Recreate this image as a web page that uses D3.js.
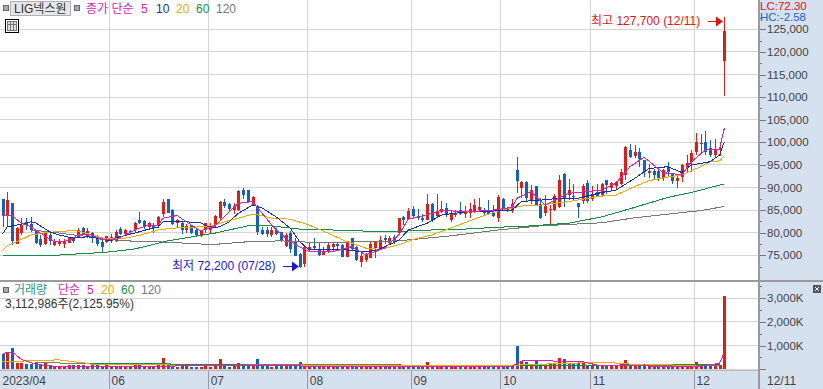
<!DOCTYPE html>
<html><head><meta charset="utf-8">
<script src="https://cdn.jsdelivr.net/npm/d3@7"></script>
<style>html,body{margin:0;padding:0;background:#fff;overflow:hidden}svg{display:block}
text{font-family:"Liberation Sans","Noto Sans CJK KR",sans-serif}</style></head><body>
<script>
const open=[87500,83800,86600,77600,79900,82400,81900,80600,78600,77400,
79500,77300,77600,77600,77800,78900,79100,81000,79100,79900,
79300,78000,77900,79100,78200,80900,79700,80400,80600,82800,
82600,81200,81700,81600,84100,87500,85000,82100,82100,80600,
81600,80700,79500,80500,80600,81700,83200,86900,86300,85000,
85000,89400,89400,86100,85900,80700,80500,79500,80700,80100,
77100,79900,78000,75300,73000,76200,77100,76300,75100,75800,
76800,77500,77300,74700,78800,76800,73600,74000,74500,76700,
76500,78900,77800,79100,79900,83400,83000,85200,83700,83300,
82800,86300,83700,84600,85400,82800,84000,85000,84100,84400,
84500,85000,84800,84900,84300,83200,87500,85400,84700,93900,
89800,91300,87100,90300,86300,84400,85000,85000,85600,93000,
88300,88200,86500,87100,91100,87400,89000,88300,91700,89800,
90400,90800,92800,98300,97000,97800,96100,93100,93700,93700,
92200,94600,93000,91500,92400,94500,95700,97900,99800,100100,
98700,97300,98300,118000];
const high=[87500,89100,86600,81300,83200,83300,83400,80700,79500,80200,
80400,78600,78600,78600,79100,79100,81000,81200,81000,80200,
79500,78500,79300,79700,80700,81200,80800,80700,82400,84600,
82800,82400,82100,83800,87500,87500,85200,83000,82300,81900,
81700,81000,80700,82200,82100,83900,87100,87400,86600,86500,
89400,89800,89500,88100,86100,81200,81200,81200,81000,80200,
79900,80400,78800,75400,77100,78000,78800,78000,76800,77800,
78000,78000,77600,78200,78900,77100,75400,75400,78200,78200,
79300,79400,79300,79500,83300,83700,85400,85900,85200,84100,
88600,86600,88600,87100,86500,84900,85000,86700,85900,86500,
87500,87600,85400,87200,86100,88300,87600,85600,87400,96700,
91500,91500,90600,90300,87600,88300,86100,88600,92800,93300,
91800,90800,86500,90800,91700,90300,90800,90900,91700,91300,
91500,94000,99200,99600,99400,98700,96100,95300,94000,93900,
94000,95700,93100,92800,95300,97200,98400,102100,101800,102400,
100500,100700,100100,127700];
const low=[81300,81300,77300,77500,79600,80700,80200,77600,76900,77300,
77300,77100,77100,76700,77700,77800,79000,79600,78800,77800,
77100,75800,77800,77800,78000,79500,79600,79600,79900,81900,
80800,80500,80000,81300,83400,84300,81700,81000,79700,79900,
79700,79300,79100,79900,79700,81200,82800,85400,84700,84100,
84700,87400,86800,86000,79500,79500,79000,79000,79500,78000,
76900,75400,74800,72200,72500,75800,76200,74800,75100,75400,
76000,76200,74600,74600,76200,73700,72500,73600,74300,74300,
76300,77500,77500,77600,79700,81800,82800,83500,82800,82400,
82700,82400,83500,84400,83500,82400,83400,83900,83200,83200,
84300,84900,83900,83900,83400,82400,84800,84500,84400,88700,
87600,86900,86300,85800,83000,83700,81900,84900,85400,85600,
87200,87100,83200,86300,86500,87100,88000,88100,88600,89400,
89600,90600,91700,96500,96500,94600,92400,92000,91800,91500,
91500,92400,90800,90000,91300,93300,93500,97200,97700,97200,
96800,96800,97000,110300];
const close=[83800,87200,78200,81100,81700,81600,80500,77700,77300,79900,
78200,78000,78200,78000,78800,78200,80700,79700,80300,78900,
77600,76800,79200,78200,80200,79700,80500,80100,82200,82100,
81200,82100,81000,83500,86700,84400,81900,82800,80500,81500,
79900,79600,80600,82100,81700,83700,86900,85900,85200,85800,
89300,88300,86900,88000,80200,79700,79700,80700,79700,78200,
79600,76400,74900,72500,76900,76900,76700,75100,76000,77300,
77600,77100,74700,78100,76500,74000,74900,75100,77500,77900,
78400,78400,78800,78000,83200,82800,84800,83700,83300,82800,
86300,82800,84800,85200,83900,84300,84400,84100,84600,85200,
86200,85600,84400,84100,83700,87900,85000,84800,86300,91500,
91300,87600,89400,86100,83300,85800,85300,88100,91700,87600,
89400,88000,85600,90300,87100,88600,88200,90800,90600,90900,
91300,93500,98900,96800,97900,96200,93500,93700,92800,92000,
93900,93500,91500,92000,95000,95500,97700,100100,99900,97900,
97200,98300,98700,124600];
const volume=[630,670,880,280,250,210,210,320,170,250,
130,110,85,140,170,170,170,170,110,180,
170,140,210,140,140,110,110,110,240,210,
140,140,140,280,460,280,240,110,140,210,
110,110,110,140,110,240,420,170,110,170,
280,170,170,140,420,170,170,110,170,170,
170,210,170,300,210,110,110,110,100,130,
110,110,140,170,140,170,110,90,140,120,
110,110,100,110,220,110,140,90,110,120,
300,130,120,130,110,110,100,110,110,90,
100,100,110,110,90,170,130,130,140,980,
360,300,220,350,170,220,240,280,470,420,
280,250,280,250,200,200,170,170,170,170,
170,240,390,200,170,170,180,180,170,110,
90,140,120,90,130,130,150,310,170,170,
170,170,170,3113];

const ma5Idx=[0,2,4,6,8,11,14,16,19,21,24,28,31,33,34,37,40,42,45,48,50,53,55,58,61,65,70,74,77,81,84,86,90,93,98,104,108,109,112,115,120,127,130,133,136,138,140,144,146,149,152,153];
const ma5=[83900,83800,82100,81300,79900,78000,78200,79500,79500,78400,78400,80600,81700,81700,83200,83800,81700,80400,81500,84600,86500,86900,84300,80600,78000,75800,75800,76900,75100,76600,79500,83000,83900,85000,84600,85000,85600,87600,89100,86100,88700,89400,90900,94600,96700,95000,93300,92800,95700,98300,98500,103100];
const ma10Idx=[0,1,3,6,7,10,12,15,18,20,23,24,28,31,33,34,37,39,42,44,46,48,50,53,55,58,61,63,65,70,73,76,79,84,86,90,93,98,104,108,110,114,118,122,127,130,134,137,141,144,146,150,152,153];
const ma10=[79700,81300,81700,82400,82200,80200,79500,78800,79100,78800,78200,78900,79900,80800,81200,82400,82400,82400,82200,81100,81300,82400,84300,86100,85500,83500,81000,78000,76200,76200,76200,75800,76000,78300,80600,82100,83900,84600,84800,85000,86900,87200,87600,87600,88900,89400,92000,94200,94600,93300,95000,95700,97200,100100];
const ma20Idx=[0,1,3,6,10,14,16,19,22,26,29,33,36,42,45,47,50,53,55,57,61,65,69,73,77,80,84,87,91,95,101,105,110,114,120,127,130,134,137,141,144,148,150,152,153];
const ma20=[76000,77100,78000,79500,80100,80400,80400,79500,78600,78800,79400,80600,81000,81300,81700,82400,83200,84100,83800,83200,83000,81700,79900,78000,76600,76300,77300,78500,79500,81000,83400,84800,85900,86100,86900,88100,88300,90200,91500,92300,92800,94600,95700,95900,97000];
const ma60Idx=[0,6,10,14,21,23,28,35,42,45,48,52,57,63,70,74,84,91,98,105,112,120,127,134,141,146,153];
const ma60=[74900,74900,74900,75200,75600,75800,76400,78200,79400,79900,80600,81500,81500,80800,80600,80400,80300,80600,80800,81200,81500,82100,83500,85600,87800,88900,90800];
const ma120Idx=[6,10,15,21,26,35,42,46,52,59,65,73,84,88,95,105,114,127,134,141,148,153];
const ma120=[80600,80200,79500,78800,78200,77900,77500,77500,78000,78200,77900,77900,78200,78600,79300,80600,81500,82200,83300,84100,84900,85800];

const volMa5Idx=[0,2,4,7,11,25,50,75,100,108,110,115,118,123,126,133,140,147,152,153];
const volMa5=[670,740,420,210,130,130,150,130,120,130,350,390,320,320,180,180,110,110,250,710];
const volMa20Idx=[0,12,15,17,19,42,70,90,108,114,118,128,136,140,147];
const volMa20=[320,400,320,280,210,170,180,180,170,210,250,290,180,200,140];
const volMa60Idx=[19,27,45,70,100,120,147,152];
const volMa60=[250,250,190,155,155,160,210,210];
const volMa120Idx=[7,18,45,70,100,120,147,152];
const volMa120=[280,250,210,200,160,140,140,150];

const priceTicks=[125000,120000,115000,110000,105000,100000,95000,90000,85000,80000,75000];
const priceMinor=[127500,122500,117500,112500,107500,102500,97500,92500,87500,82500,77500,72500];
const volTicks=[3000,2000,1000];
const volMinor=[3500,2500,1500,500];
const monthIdx=[0,23,44,65,87,106,125,147];
const monthLabels=["2023/04","06","07","08","09","10","11","12"];

const W=823,H=389,plotR=758,stripB=371;
const C={red:"#e8190f",blue:"#1060c8",grid:"#d4d4d4",strip:"#d6e1ef",line:"#9a9a9a",text:"#444",
  m5:"#e020b0",m10:"#1030b0",m20:"#f0a800",m60:"#109040",m120:"#777"};
const x=d3.scaleLinear([0,153],[2.5,724.3]);
const y=d3.scaleLinear([75000,125000],[255.3,29.3]);
const v=d3.scaleLinear([0,3000],[369.3,298.3]);
const svg=d3.select("body").append("svg").attr("width",W).attr("height",H);
const px=n=>Math.round(n);

svg.append("rect").attr("width",W).attr("height",H).attr("fill","#fff");
svg.append("rect").attr("x",plotR).attr("width",W-plotR).attr("height",H).attr("fill",C.strip);
svg.append("rect").attr("y",stripB).attr("width",W).attr("height",H-stripB).attr("fill",C.strip);

// grid
const grid=svg.append("g").attr("shape-rendering","crispEdges").attr("stroke",C.grid);
monthIdx.slice(1).forEach(i=>{const gx=px(x(i)-2.4)+.5;
  grid.append("line").attr("x1",gx).attr("x2",gx).attr("y1",0).attr("y2",stripB)});
priceTicks.forEach(t=>{const gy=Math.floor(y(t))+.5;
  grid.append("line").attr("x1",0).attr("x2",plotR).attr("y1",gy).attr("y2",gy)});
volTicks.concat([0]).forEach(t=>{const gy=Math.floor(v(t))+.5;
  grid.append("line").attr("x1",0).attr("x2",plotR).attr("y1",gy).attr("y2",gy)});

// volume bars
const idx=d3.range(close.length);
const col=i=>close[i]>=open[i]?C.red:C.blue;
svg.append("g").attr("shape-rendering","crispEdges").selectAll("rect").data(idx).join("rect")
  .attr("x",i=>px(x(i))-1).attr("width",3)
  .attr("y",i=>px(v(volume[i]))).attr("height",i=>px(v(0))-px(v(volume[i])))
  .attr("fill",col);
const drawLine=(ix,vals,scale,color)=>svg.append("path")
  .attr("d",d3.line().x((d,k)=>x(ix[k])).y(d=>scale(d))(vals))
  .attr("fill","none").attr("stroke",color).attr("stroke-width",1).attr("shape-rendering","crispEdges");
drawLine(volMa120Idx,volMa120,v,C.m120);
drawLine(volMa60Idx,volMa60,v,C.m60);
drawLine(volMa20Idx,volMa20,v,C.m20);
drawLine(volMa5Idx,volMa5,v,C.m5);

// candles
const cg=svg.append("g").attr("shape-rendering","crispEdges");
cg.selectAll("line").data(idx).join("line")
  .attr("x1",i=>px(x(i))+.5).attr("x2",i=>px(x(i))+.5)
  .attr("y1",i=>y(high[i])).attr("y2",i=>y(low[i])).attr("stroke",col);
cg.selectAll("rect").data(idx).join("rect")
  .attr("x",i=>px(x(i))-1).attr("width",3)
  .attr("y",i=>y(Math.max(open[i],close[i])))
  .attr("height",i=>Math.max(1,Math.abs(y(open[i])-y(close[i]))))
  .attr("fill",col);
drawLine(ma120Idx,ma120,y,C.m120);
drawLine(ma60Idx,ma60,y,C.m60);
drawLine(ma20Idx,ma20,y,C.m20);
drawLine(ma10Idx,ma10,y,C.m10);
drawLine(ma5Idx,ma5,y,C.m5);

// right axes
function styleAxis(g){
  g.select(".domain").remove();
  g.selectAll("line").attr("stroke","#777").attr("shape-rendering","crispEdges");
  g.selectAll("text").attr("fill",C.text).attr("font-size",11.5).attr("font-family",'"Liberation Sans"');
}
const ax=(scale,vals,fmt,size,pad)=>svg.append("g").attr("transform",`translate(${plotR+1},0)`)
  .call(d3.axisRight(scale).tickValues(vals).tickSize(size).tickPadding(pad).tickFormat(fmt)).call(styleAxis);
ax(y,priceTicks,d3.format(","),7,1);
ax(y,priceMinor.filter(d=>y(d)>0),()=>"",3,0);
ax(v,volTicks,d=>d3.format(",")(d)+"K",7,1);
ax(v,volMinor,()=>"",3,0);
ax(v,[0],()=>"",7,0);

// date axis
const dateAxis=svg.append("g").attr("transform",`translate(-2.4,${stripB})`)
  .call(d3.axisBottom(x).tickValues(monthIdx).tickSize(H-stripB).tickPadding(0).tickFormat((d,k)=>monthLabels[k]));
dateAxis.select(".domain").remove();
dateAxis.selectAll("line").attr("stroke",C.line).attr("stroke-width",1).attr("shape-rendering","crispEdges")
  .filter((d,k)=>k===0).remove();
dateAxis.selectAll("text").attr("text-anchor","start").attr("x",(d,k)=>k===0?0:2.5).attr("y",0).attr("dy","14")
  .attr("transform",(d,k)=>k===0?`translate(${2.4+2-x(0)},0)`:null)
  .attr("fill",C.text).attr("font-size",12).attr("font-family",'"Liberation Sans"');

// frame lines
const frame=svg.append("g").attr("shape-rendering","crispEdges");
frame.append("rect").attr("x",plotR).attr("width",2).attr("height",H).attr("fill",C.line);
frame.append("rect").attr("y",280).attr("width",W).attr("height",2).attr("fill",C.line);
frame.append("rect").attr("y",370).attr("width",plotR).attr("height",1).attr("fill","#bbb");

// text helper
const T=(tx,ty,s,fill,size=12,anchor="start")=>svg.append("text").attr("x",tx).attr("y",ty)
  .attr("dominant-baseline","central").attr("text-anchor",anchor).attr("font-size",size).attr("fill",fill).text(s);
const sq=(sx,sy)=>svg.append("rect").attr("x",sx+.5).attr("y",sy+.5).attr("width",5).attr("height",5)
  .attr("fill","#aaa").attr("stroke","#666").attr("shape-rendering","crispEdges");

// LC/HC labels, tightened so they clear the 125,000 tick label
T(760,6,"LC:72.30","#e81010",11.5);
T(760,16.5,"HC:-2.58","#2060d0",11.5);

// header
sq(3,5);
svg.append("rect").attr("x",10.5).attr("y",1.5).attr("width",60).attr("height",14).attr("fill","#e6e6e6").attr("stroke","#b0b0b0").attr("shape-rendering","crispEdges");
T(14,9,"LIG넥스원","#333",12);
sq(74,5);
T(86,9,"종가 단순",C.m5,12);
T(141,9,"5",C.m5,12);
T(156,9,"10",C.m10,12);
T(176,9,"20",C.m20,12);
T(196,9,"60",C.m60,12);
T(216,9,"120",C.m120,12);
// table icon
const ic=svg.append("g").attr("shape-rendering","crispEdges");
ic.append("rect").attr("x",5.5).attr("y",19.5).attr("width",13).attr("height",13).attr("fill","#fff").attr("stroke","#000");
ic.append("rect").attr("x",7.5).attr("y",21.5).attr("width",9).attr("height",9).attr("fill","#ddd").attr("stroke","#777");
[10.5,13.5].forEach(a=>ic.append("line").attr("x1",a).attr("x2",a).attr("y1",21).attr("y2",31).attr("stroke","#777"));
ic.append("line").attr("x1",7).attr("x2",17).attr("y1",24.5).attr("y2",24.5).attr("stroke","#777");

// volume header
sq(3,287);
T(14,290,"거래량","#309090",12);
T(58,290,"단순",C.m5,12);
T(87,290,"5",C.m5,12);
T(101,290,"20",C.m20,12);
T(121,290,"60",C.m60,12);
T(141,290,"120",C.m120,12);
T(5,304,"3,112,986주(2,125.95%)","#333",12);

// annotations
const arrow=(x0,x1,ay,color)=>{
  svg.append("line").attr("x1",x0).attr("x2",x1-5).attr("y1",ay).attr("y2",ay).attr("stroke",color).attr("stroke-width",1).attr("shape-rendering","crispEdges");
  svg.append("path").attr("d",`M${x1-7},${ay-5}L${x1},${ay}L${x1-7},${ay+5}Z`).attr("fill",color);
};
T(591,21,"최고 127,700 (12/11)","#e81010",12);
arrow(708,723,21.5,"#e81010");
T(172,266,"최저 72,200 (07/28)","#1818d8",12);
arrow(283,299,266.5,"#1818d8");

// right date + expand icon
T(767,381,"12/11",C.text,12);
const ex=svg.append("g");
ex.append("rect").attr("x",813).attr("y",285).attr("width",8).attr("height",8).attr("fill","#555").attr("shape-rendering","crispEdges");
ex.append("path").attr("d","M815,287L819,291M815,291L819,287").attr("stroke","#fff").attr("stroke-width",1);
</script></body></html>
